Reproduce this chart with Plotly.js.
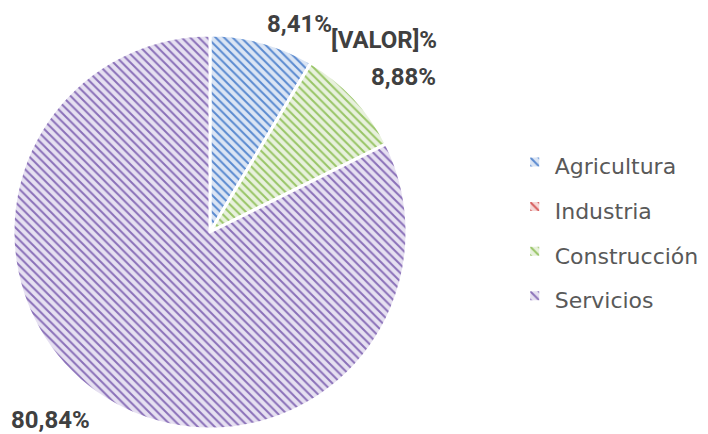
<!DOCTYPE html>
<html>
<head>
<meta charset="utf-8">
<script src="https://cdn.plot.ly/plotly-3.0.1.min.js"></script>
<style>html,body{margin:0;padding:0;background:#fff;}#chart{width:708px;height:434px;}</style>
</head>
<body>
<div id="chart"></div>
<script>
const categories = ["Agricultura", "Industria", "Construcción", "Servicios"];
const values = [8.41, 0, 8.88, 80.84];
const labelsText = ["8,41%", "[VALOR]%", "8,88%", "80,84%"];
const fgColors = ["#5a8ad0", "#d65a5a", "#98c566", "#8a70b8"];
const bgColors = ["#dbe5f4", "#f5d8d7", "#e8f1dd", "#e6e0f1"];

// label anchor positions (pixels in the 708x434 figure)
const labelPosPx = [[299, 24], [384, 40], [403, 77], [50, 420]];

const W = 708, H = 434;
const legendLabels = categories.map(c => '<span style="font-size:22px">' + c + '</span>');

const trace = {
  type: "pie",
  labels: legendLabels,
  values: values,
  textinfo: "none",
  sort: false,
  direction: "clockwise",
  rotation: 0,
  hole: 0,
  automargin: false,
  domain: {x: [13/W, 407/W], y: [1 - 429/H, 1 - 35/H]},
  marker: {
    colors: fgColors,
    line: {color: "#ffffff", width: 3},
    pattern: {shape: "\\", fgcolor: fgColors, bgcolor: bgColors, size: 6, solidity: 0.33, fillmode: "replace"}
  }
};

const annotations = labelsText.map((t, i) => ({
  text: t,
  xref: "paper", yref: "paper",
  x: labelPosPx[i][0] / W, y: 1 - labelPosPx[i][1] / H,
  xanchor: "center", yanchor: "middle",
  showarrow: false,
  font: {family: "Roboto", size: 24, color: "#404040", weight: "bold"}
}));

const layout = {
  width: W, height: H,
  margin: {l: 0, r: 0, t: 0, b: 0},
  paper_bgcolor: "#ffffff",
  showlegend: true,
  annotations: annotations,
  legend: {
    x: 0.727, y: 0.472, xanchor: "left", yanchor: "middle",
    font: {family: "DejaVu Sans", size: 32, color: "#595959"},
    itemwidth: 30
  }
};

Plotly.newPlot("chart", [trace], layout, {displayModeBar: false, staticPlot: true});
</script>
</body>
</html>
